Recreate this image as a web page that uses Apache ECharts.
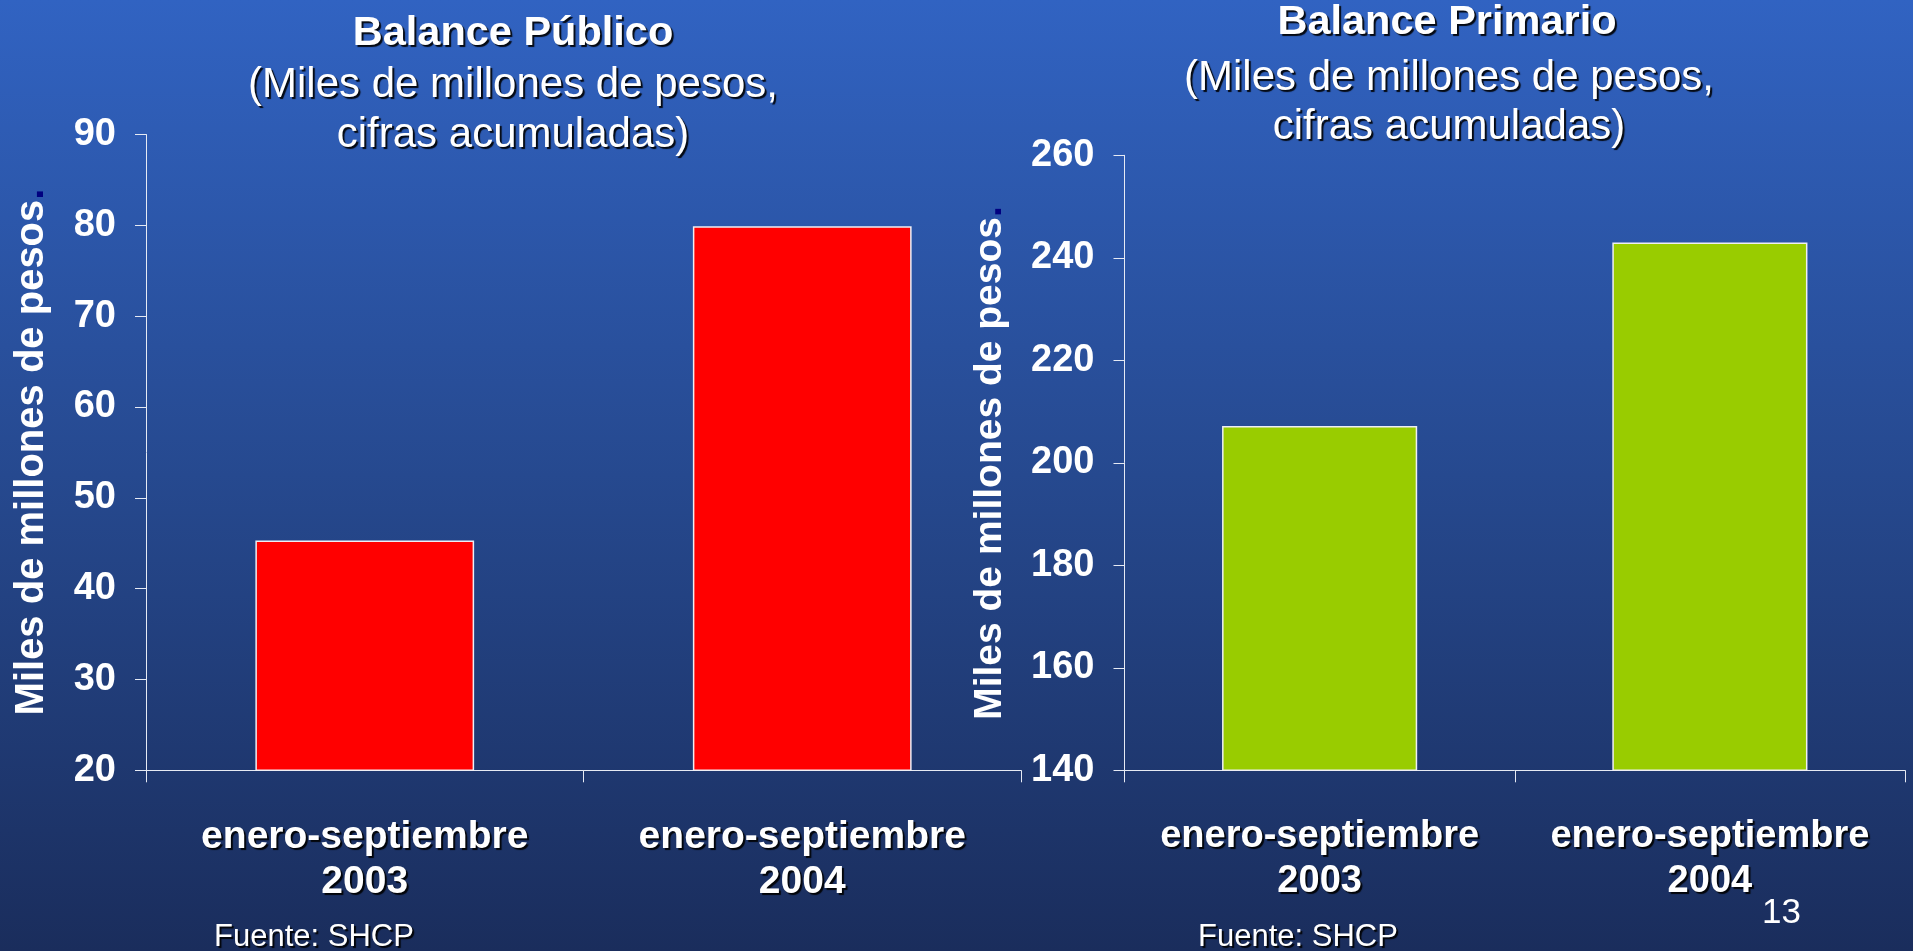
<!DOCTYPE html>
<html>
<head>
<meta charset="utf-8">
<title>Balance Público y Balance Primario</title>
<script src="https://cdn.jsdelivr.net/npm/echarts@6/dist/echarts.min.js"></script>
<style>
  html, body { margin: 0; padding: 0; width: 100%; height: 100%; overflow: hidden; }
  #chart { width: 1913px; height: 951px; }
</style>
</head>
<body>
<div id="chart"></div>
<script>
// Cumulative January–September figures, thousands of millions of pesos
const categories = ['enero-septiembre\n2003', 'enero-septiembre\n2004'];
const balancePublico = [45.3, 79.9];
const balancePrimario = [207.2, 243.0];

// Value-axis ticks
const publicoTicks = [20, 30, 40, 50, 60, 70, 80, 90];
const primarioTicks = [140, 160, 180, 200, 220, 240, 260];

const FONT = "'Liberation Sans', Arial, Helvetica, sans-serif";
const WHITE = '#ffffff';
const AXIS = '#e6eaf4';
const SHADOW = 'rgba(0,0,0,0.9)';

const chart = echarts.init(document.getElementById('chart'), null, { renderer: 'canvas' });

function valueAxis(gridIndex, ticks, fontSize) {
  return {
    type: 'value',
    gridIndex: gridIndex,
    min: ticks[0],
    max: ticks[ticks.length - 1],
    interval: ticks[1] - ticks[0],
    axisLine: { show: true, lineStyle: { color: AXIS, width: 1 } },
    axisTick: { show: true, length: 11, inside: false, lineStyle: { color: AXIS, width: 1 } },
    splitLine: { show: false },
    axisLabel: {
      color: WHITE, fontFamily: FONT, fontWeight: 'bold', fontSize: fontSize, margin: 30
    }
  };
}

function categoryAxis(gridIndex, fontSize) {
  return {
    type: 'category',
    gridIndex: gridIndex,
    data: categories,
    boundaryGap: true,
    axisLine: { show: true, lineStyle: { color: AXIS, width: 1 } },
    axisTick: { show: true, length: 12, alignWithLabel: false, lineStyle: { color: AXIS, width: 1 } },
    axisLabel: {
      color: WHITE, fontFamily: FONT, fontWeight: 'bold', fontSize: fontSize,
      lineHeight: 45, margin: 44, interval: 0,
      textShadowColor: SHADOW, textShadowOffsetX: 2, textShadowOffsetY: 2, textShadowBlur: 1
    }
  };
}

function textEl(text, x, y, size, weight, align, shadow) {
  const style = {
    text: text, x: 0, y: 0,
    fill: WHITE,
    font: weight + ' ' + size + 'px ' + FONT,
    align: align, verticalAlign: 'middle',
    textAlign: align, textVerticalAlign: 'middle'
  };
  if (shadow) {
    style.textShadowColor = SHADOW;
    style.textShadowOffsetX = 2;
    style.textShadowOffsetY = 2;
    style.textShadowBlur = 1;
  }
  return { type: 'text', x: x, y: y, silent: true, style: style };
}

function axisTitle(x, y, size) {
  return {
    type: 'text', x: x, y: y, rotation: Math.PI / 2, silent: true,
    style: {
      text: '{t|Miles de millones de pesos}{d|.}',
      x: 0, y: 0,
      align: 'center', verticalAlign: 'middle',
      textAlign: 'center', textVerticalAlign: 'middle',
      rich: {
        t: { fill: WHITE, fontFamily: FONT, fontWeight: 'bold', fontSize: size },
        d: { fill: '#000080', fontFamily: FONT, fontWeight: 'bold', fontSize: size }
      }
    }
  };
}

const option = {
  animation: false,
  backgroundColor: new echarts.graphic.LinearGradient(0, 0, 0, 1, [
    { offset: 0, color: '#3163c2' },
    { offset: 0.5, color: '#26498f' },
    { offset: 1, color: '#1a2d5c' }
  ]),
  grid: [
    { left: 146, top: 134.5, width: 875, height: 635.8 },
    { left: 1124.5, top: 155.3, width: 780.5, height: 615 }
  ],
  xAxis: [categoryAxis(0, 39), categoryAxis(1, 38)],
  yAxis: [valueAxis(0, publicoTicks, 38), valueAxis(1, primarioTicks, 38)],
  series: [
    {
      type: 'bar', xAxisIndex: 0, yAxisIndex: 0,
      data: balancePublico, barWidth: '50%',
      itemStyle: { color: '#ff0000', borderColor: '#eeeef4', borderWidth: 1.5 }
    },
    {
      type: 'bar', xAxisIndex: 1, yAxisIndex: 1,
      data: balancePrimario, barWidth: '50%',
      itemStyle: { color: '#99cc00', borderColor: '#eeeef4', borderWidth: 1.5 }
    }
  ],
  graphic: [
    // Left panel headings
    textEl('Balance Público', 513, 34, 41.5, 'bold', 'center', true),
    textEl('(Miles de millones de pesos,', 513, 85, 42, 'normal', 'center', true),
    textEl('cifras acumuladas)', 513, 135, 42, 'normal', 'center', true),
    // Right panel headings
    textEl('Balance Primario', 1447, 23, 41.5, 'bold', 'center', true),
    textEl('(Miles de millones de pesos,', 1449, 78, 42, 'normal', 'center', true),
    textEl('cifras acumuladas)', 1449, 127, 42, 'normal', 'center', true),
    // Value-axis titles
    axisTitle(32, 452, 40),
    axisTitle(990, 463, 39),
    // Source notes and page number
    textEl('Fuente: SHCP', 214, 937, 31, 'normal', 'left', true),
    textEl('Fuente: SHCP', 1198, 937, 31, 'normal', 'left', true),
    textEl('13', 1762, 913, 35, 'normal', 'left', false)
  ]
};

chart.setOption(option);
</script>
</body>
</html>
